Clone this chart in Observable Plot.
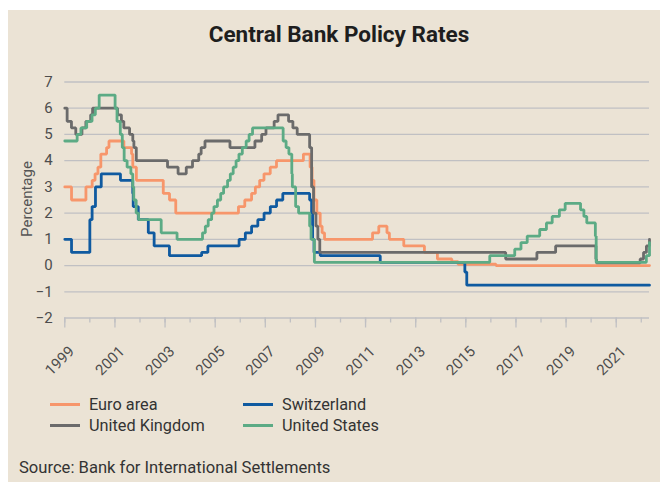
<!DOCTYPE html>
<html>
<head>
<meta charset="utf-8">
<script src="https://cdn.jsdelivr.net/npm/d3@7"></script>
<script src="https://cdn.jsdelivr.net/npm/@observablehq/plot@0.6"></script>
<style>
  body { margin:0; width:660px; height:485px; overflow:hidden; position:relative; background:#fff; font-family: Roboto, "Liberation Sans", sans-serif; }
  #bg { position:absolute; left:8px; top:10px; width:652px; height:472px; background:#ebe3d5; }
  #title { position:absolute; left:13px; width:652px; top:21px; text-align:center; font-weight:700; font-size:22.5px; color:#1e1e1e; }
  #chart { position:absolute; left:0; top:0; }
  #ylab { position:absolute; left:27px; top:199px; transform: translate(-50%,-50%) rotate(-90deg); font-size:15px; color:#555; white-space:nowrap; }
  .leg { position:absolute; display:flex; align-items:center; font-size:16.3px; color:#333; white-space:nowrap; }
  .sw { width:30px; height:3px; margin-right:9px; }
  #source { position:absolute; left:19px; top:458px; font-size:16.6px; color:#333; white-space:nowrap; }
</style>
</head>
<body>
<div id="bg"></div>
<div id="title">Central Bank Policy Rates</div>
<div id="chart"></div>
<div id="ylab">Percentage</div>
<div id="legend"></div>
<div id="source">Source: Bank for International Settlements</div>
<script>
// ---- Data (policy rate change points, %) ----
const euroDates = ["1999-01-01","1999-04-09","1999-11-05","2000-02-04","2000-03-17","2000-04-28","2000-06-09","2000-09-01","2000-10-06","2001-05-11","2001-08-31","2001-09-18","2001-11-09","2002-12-06","2003-03-07","2003-06-06","2005-12-06","2006-03-08","2006-06-15","2006-08-09","2006-10-11","2006-12-13","2007-03-14","2007-06-13","2008-07-09","2008-10-15","2008-11-12","2008-12-10","2009-01-21","2009-03-11","2009-04-08","2009-05-13","2011-04-13","2011-07-13","2011-11-09","2011-12-14","2012-07-11","2013-05-08","2013-11-13","2014-06-11","2014-09-10","2016-03-16","2022-05-01"];
const euroValues = [3.0,2.5,3.0,3.25,3.5,3.75,4.25,4.5,4.75,4.5,4.25,3.75,3.25,2.75,2.5,2.0,2.25,2.5,2.75,3.0,3.25,3.5,3.75,4.0,4.25,3.75,3.25,2.5,2.0,1.5,1.25,1.0,1.25,1.5,1.25,1.0,0.75,0.5,0.25,0.15,0.05,0.0,0.0];

const chDates = ["1999-01-01","1999-04-09","2000-01-01","2000-02-03","2000-03-23","2000-06-15","2001-03-22","2001-09-17","2001-09-24","2001-12-07","2002-05-02","2002-07-26","2003-03-06","2004-06-17","2004-09-16","2005-12-15","2006-03-16","2006-06-15","2006-09-14","2006-12-14","2007-03-15","2007-06-14","2007-09-13","2008-10-08","2008-11-06","2008-11-20","2008-12-11","2009-03-12","2011-08-03","2014-12-18","2015-01-15","2022-05-01"];
const chValues = [1.0,0.5,1.75,2.25,3.0,3.5,3.25,2.75,2.25,1.75,1.25,0.75,0.375,0.5,0.75,1.0,1.25,1.5,1.75,2.0,2.25,2.5,2.75,2.5,2.0,1.0,0.5,0.375,0.125,-0.25,-0.75,-0.75];

const ukDates = ["1999-01-01","1999-02-04","1999-04-08","1999-06-10","1999-09-08","1999-11-04","2000-01-13","2000-02-10","2001-02-08","2001-04-05","2001-05-10","2001-08-02","2001-09-18","2001-10-04","2001-11-08","2003-02-06","2003-07-10","2003-11-06","2004-02-05","2004-05-06","2004-06-10","2004-08-05","2005-08-04","2006-08-03","2006-11-09","2007-01-11","2007-05-10","2007-07-05","2007-12-06","2008-02-07","2008-04-10","2008-10-08","2008-11-06","2008-12-04","2009-01-08","2009-02-05","2009-03-05","2016-08-04","2017-11-02","2018-08-02","2020-03-11","2020-03-19","2021-12-16","2022-02-03","2022-03-17","2022-05-01"];
const ukValues = [6.0,5.5,5.25,5.0,5.25,5.5,5.75,6.0,5.75,5.5,5.25,5.0,4.75,4.5,4.0,3.75,3.5,3.75,4.0,4.25,4.5,4.75,4.5,4.75,5.0,5.25,5.5,5.75,5.5,5.25,5.0,4.5,3.0,2.0,1.5,1.0,0.5,0.25,0.5,0.75,0.25,0.1,0.25,0.5,0.75,1.0];

const usDates = ["1999-01-01","1999-06-30","1999-08-24","1999-11-16","2000-02-02","2000-03-21","2000-05-16","2001-01-03","2001-01-31","2001-03-20","2001-04-18","2001-05-15","2001-06-27","2001-08-21","2001-09-17","2001-10-02","2001-11-06","2001-12-11","2002-11-06","2003-06-25","2004-06-30","2004-08-10","2004-09-21","2004-11-10","2004-12-14","2005-02-02","2005-03-22","2005-05-03","2005-06-30","2005-08-09","2005-09-20","2005-11-01","2005-12-13","2006-01-31","2006-03-28","2006-05-10","2006-06-29","2007-09-18","2007-10-31","2007-12-11","2008-01-22","2008-01-30","2008-03-18","2008-04-30","2008-10-08","2008-10-29","2008-12-16","2015-12-16","2016-12-14","2017-03-15","2017-06-14","2017-12-13","2018-03-21","2018-06-13","2018-09-26","2018-12-19","2019-07-31","2019-09-18","2019-10-30","2020-03-03","2020-03-15","2022-03-16","2022-05-01"];
const usValues = [4.75,5.0,5.25,5.5,5.75,6.0,6.5,6.0,5.5,5.0,4.5,4.0,3.75,3.5,3.0,2.5,2.0,1.75,1.25,1.0,1.25,1.5,1.75,2.0,2.25,2.5,2.75,3.0,3.25,3.5,3.75,4.0,4.25,4.5,4.75,5.0,5.25,4.75,4.5,4.25,3.5,3.0,2.25,2.0,1.5,1.0,0.125,0.375,0.625,0.875,1.125,1.375,1.625,1.875,2.125,2.375,2.125,1.875,1.625,1.125,0.125,0.375,0.875];

const seriesNames = ["Euro area","Switzerland","United Kingdom","United States"];
const seriesColors = ["#f7966b","#0f5aa0","#6b6b6b","#5cab85"];

const yTicks = [-2,-1,0,1,2,3,4,5,6,7];
const yTickLabels = ["−2","−1","0","1","2","3","4","5","6","7"];
const xLabelYears = [1999,2001,2003,2005,2007,2009,2011,2013,2015,2017,2019,2021];
const xMinorYears = d3.range(1999, 2023);
const xDomain = ["1999-01-01","2022-05-01"];

// ---- Build ----
const parse = d3.utcParse("%Y-%m-%d");
function rows(dates, values, name) { return dates.map((d, i) => ({date: parse(d), value: values[i], name})); }
const series = [
  rows(euroDates, euroValues, seriesNames[0]),
  rows(chDates, chValues, seriesNames[1]),
  rows(ukDates, ukValues, seriesNames[2]),
  rows(usDates, usValues, seriesNames[3])
];
const yr = y => new Date(Date.UTC(y, 0, 1));
const gridColor = "#c0c0c3";

const chart = Plot.plot({
  width: 660,
  height: 380,
  marginLeft: 64.3,
  marginRight: 11,
  marginTop: 81.5,
  marginBottom: 62.5,
  style: {background: "transparent", fontFamily: "Roboto, 'Liberation Sans', sans-serif"},
  x: {type: "utc", domain: xDomain.map(parse)},
  y: {domain: [-2, 7]},
  marks: [
    Plot.ruleY(yTicks, {stroke: gridColor, strokeWidth: 1.3}),
    Plot.axisY({ticks: yTicks, tickSize: 0, tickPadding: 12, fontSize: 15, fill: "#4d4d4d", label: null,
      tickFormat: d => yTickLabels[yTicks.indexOf(d)]}),
    Plot.axisX({ticks: xMinorYears.map(yr), tickSize: 5, stroke: gridColor, strokeWidth: 1.3, tickFormat: () => "", label: null}),
    Plot.axisX({ticks: xLabelYears.map(yr), tickSize: 10, stroke: gridColor, strokeWidth: 1.3, tickFormat: () => "", label: null}),
    Plot.text(xLabelYears, {x: d => yr(d), y: () => -2, text: d => String(d), rotate: -45, textAnchor: "end", dx: 7, dy: 31, fontSize: 15, fill: "#4d4d4d"}),
    ...series.map((s, i) => Plot.line(s, {x: "date", y: "value", curve: "step-after", stroke: seriesColors[i], strokeWidth: 2.8, strokeLinejoin: "miter"}))
  ]
});
document.getElementById("chart").appendChild(chart);

// ---- Legend ----
const legendPos = [[50, 404], [243, 404], [50, 425], [243, 425]];
const leg = document.getElementById("legend");
seriesNames.forEach((n, i) => {
  const el = document.createElement("div");
  el.className = "leg";
  el.style.left = legendPos[i][0] + "px";
  el.style.top = (legendPos[i][1] - 10) + "px";
  el.style.height = "20px";
  el.innerHTML = `<span class="sw" style="background:${seriesColors[i]}"></span><span>${n}</span>`;
  leg.appendChild(el);
});
</script>
</body>
</html>
